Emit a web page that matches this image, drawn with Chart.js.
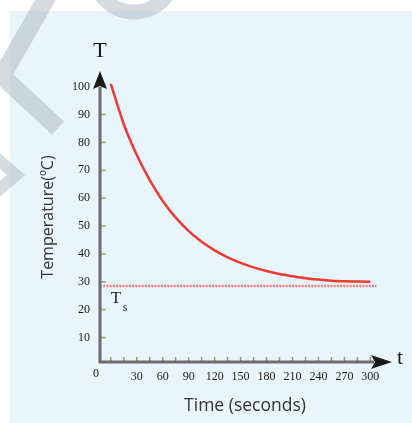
<!DOCTYPE html>
<html><head><meta charset="utf-8">
<script src="https://cdn.jsdelivr.net/npm/chart.js@4"></script>
<style>html,body{margin:0;padding:0;background:#fff;overflow:hidden}#wrap{position:relative;width:412px;height:423px}</style>
</head><body><div id="wrap"><canvas id="c" width="412" height="423"></canvas></div>
<script>
// ---- data ----
const times = [0,15,30,45,60,75,90,105,120,135,150,165,180,195,210,225,240,255,270,285,300];
const temps = [101,86.5,75.5,66.5,59,53,48.2,44.4,41.3,38.8,36.8,35.2,33.9,32.8,32,31.3,30.8,30.4,30.2,30.1,30];
const ambientTemp = 28.5;
const ambientSpan = [-12.5, 307];
const yTicks = [10,20,30,40,50,60,70,80,90,100];
const xTicks = [0,15,30,45,60,75,90,105,120,135,150,165,180,195,210,225,240,255,270,285,300];
const xLabels = [30,60,90,120,150,180,210,240,270,300];
const yTitle = 'Temperature(ºC)';
const xTitle = 'Time (seconds)';

const serif = '"Liberation Serif", "DejaVu Serif", serif';
const sans = '"Open Sans", "DejaVu Sans", sans-serif';

const deco = {
  id: 'deco',
  beforeDraw(chart) {
    const ctx = chart.ctx;
    ctx.save();
    ctx.fillStyle = '#e8f5fc';
    ctx.fillRect(10, 11, 402, 412);
    ctx.restore();
  },
  afterDatasetsDraw(chart) {
    const ctx = chart.ctx;
    const xs = chart.scales.x, ys = chart.scales.y;
    const ca = chart.chartArea;
    const ox = ca.left, oy = ca.bottom;
    ctx.save();
    // tick marks on y axis (inside)
    ctx.lineWidth = 1.5;
    yTicks.forEach(v => {
      const y = ys.getPixelForValue(v);
      ctx.strokeStyle = '#a0a060';
      ctx.beginPath(); ctx.moveTo(ox + 1, y); ctx.lineTo(ox + 6, y); ctx.stroke();
    });
    // tick marks on x axis
    xTicks.forEach((v, i) => {
      const x = xs.getPixelForValue(v);
      ctx.strokeStyle = (i % 2 === 0 && v <= 120) ? '#a0a060' : '#8f949a';
      ctx.beginPath(); ctx.moveTo(x, oy - 1); ctx.lineTo(x, oy - 5); ctx.stroke();
    });
    // axes
    ctx.strokeStyle = '#6c6c6c';
    ctx.lineWidth = 3;
    ctx.beginPath();
    ctx.moveTo(ox, ca.top + 16); ctx.lineTo(ox, oy); ctx.lineTo(ca.right - 18, oy);
    ctx.stroke();
    // arrowheads
    ctx.fillStyle = '#1a1a1a';
    ctx.beginPath();
    ctx.moveTo(ox, ca.top); ctx.lineTo(ox + 7, ca.top + 18); ctx.lineTo(ox, ca.top + 15); ctx.lineTo(ox - 7, ca.top + 18);
    ctx.closePath(); ctx.fill();
    ctx.beginPath();
    ctx.moveTo(ca.right, oy); ctx.lineTo(ca.right - 21, oy - 7); ctx.lineTo(ca.right - 17, oy); ctx.lineTo(ca.right - 21, oy + 7);
    ctx.closePath(); ctx.fill();
    // texts
    ctx.fillStyle = '#1a1a1a';
    ctx.textAlign = 'center'; ctx.textBaseline = 'middle';
    ctx.font = '22px ' + serif;
    ctx.fillText('T', ox, 51);
    ctx.fillText('t', ca.right + 8, oy - 4);
    ctx.font = '17px ' + serif;
    ctx.fillText('T', 116, 299);
    ctx.font = '12px ' + serif;
    ctx.fillText('s', 125, 308);
    ctx.fillText('0', 96, 374);
    ctx.fillStyle = '#333';
    ctx.font = '17.5px ' + sans;
    ctx.fillText(xTitle, 245, 406);
    ctx.save();
    ctx.translate(48, 217); ctx.rotate(-Math.PI / 2);
    ctx.font = '16px ' + sans;
    ctx.fillText(yTitle, 0, 0);
    ctx.restore();
    // watermark
    ctx.strokeStyle = 'rgba(150,160,170,0.38)';
    ctx.lineJoin = 'miter'; ctx.lineCap = 'butt';
    ctx.lineWidth = 18;
    ctx.beginPath(); ctx.moveTo(50, -8); ctx.lineTo(2, 76); ctx.lineTo(58, 128); ctx.stroke();
    ctx.lineWidth = 12;
    ctx.beginPath(); ctx.moveTo(-6, 156); ctx.lineTo(16, 175); ctx.lineTo(-6, 194); ctx.stroke();
    ctx.lineWidth = 15;
    ctx.beginPath(); ctx.arc(134, -28, 40, 0.15 * Math.PI, 0.85 * Math.PI); ctx.stroke();
    ctx.restore();
  }
};

new Chart(document.getElementById('c'), {
  type: 'line',
  data: {
    datasets: [
      {
        data: times.map((t, i) => ({ x: t, y: temps[i] })),
        borderColor: '#ee3a33', borderWidth: 2.5, pointRadius: 0,
        cubicInterpolationMode: 'monotone', fill: false
      },
      {
        data: ambientSpan.map(t => ({ x: t, y: ambientTemp })),
        borderColor: '#f07c7c', borderWidth: 2.5, borderDash: [2, 1.2], pointRadius: 0, fill: false
      }
    ]
  },
  options: {
    responsive: false, animation: false, devicePixelRatio: 1,
    layout: { padding: { top: 71, right: 20, left: 0, bottom: 0 } },
    plugins: { legend: { display: false }, tooltip: { enabled: false } },
    scales: {
      x: {
        type: 'linear', min: -12.5, max: 325,
        afterFit(s) { s.height = 61; },
        afterBuildTicks(s) { s.ticks = xTicks.map(v => ({ value: v })); },
        grid: { display: false, drawTicks: false }, border: { display: false },
        ticks: {
          autoSkip: false, maxRotation: 0, padding: 8, color: '#1a1a1a',
          font: { family: serif, size: 12 },
          callback: v => xLabels.includes(v) ? String(v) : ''
        }
      },
      y: {
        type: 'linear', min: 1.25, max: 105.6,
        afterFit(s) { s.width = 100; },
        afterBuildTicks(s) { s.ticks = yTicks.map(v => ({ value: v })); },
        grid: { display: false, drawTicks: false }, border: { display: false },
        ticks: {
          autoSkip: false, padding: 10, color: '#1a1a1a',
          font: { family: serif, size: 12 }
        }
      }
    }
  },
  plugins: [deco]
});
</script>
</body></html>
